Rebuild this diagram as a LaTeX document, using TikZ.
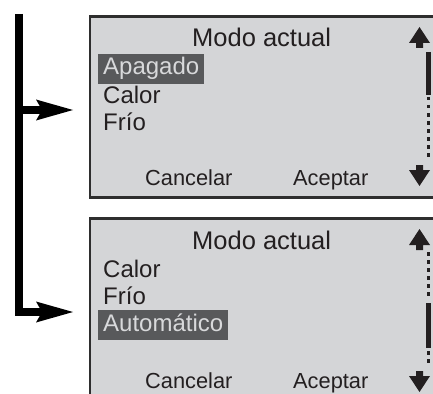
\documentclass[tikz,border=0pt]{standalone}
\usepackage{fontspec}
\setmainfont{Liberation Sans}
\usetikzlibrary{arrows.meta}
\definecolor{scr}{HTML}{D4D5D7}
\definecolor{frame}{HTML}{2E2E2E}
\definecolor{txt}{HTML}{231F20}
\definecolor{selbg}{HTML}{58595B}
\definecolor{seltx}{HTML}{D8D9DB}
\tikzset{
  screen/.style={draw=frame, fill=scr, line width=2.7pt, anchor=north west, minimum width=380pt, inner sep=0pt},
  title/.style={anchor=base west, inner sep=0pt, text=txt, font=\fontsize{25.5}{26}\selectfont},
  item/.style={anchor=base west, inner sep=0pt, text=txt, font=\fontsize{24}{26}\selectfont},
  sel/.style={anchor=base west, fill=selbg, text=seltx, inner xsep=5pt, inner ysep=0pt, text height=21pt, text depth=9pt, font=\fontsize{24}{26}\selectfont},
  softkey/.style={anchor=base west, inner sep=0pt, text=txt, font=\fontsize{21.8}{24}\selectfont},
  flow/.style={draw=black, line width=7.5pt, line join=miter, line cap=butt, shorten >=15.5pt,
    -{Stealth[length=37pt, width=21pt, inset=6pt, line width=0pt]}},
  scrollbar/.style={draw=txt, line width=5.5pt, line cap=butt},
  scrolldots/.style={draw=txt, line width=2.5pt, dash pattern=on 3.5pt off 4.5pt},
  scrollarrow/.style={fill=txt, draw=none}
}
\begin{document}
\begin{tikzpicture}[x=1pt, y=-1pt]
\useasboundingbox (0,0) rectangle (433,393);
\clip (0,0) rectangle (433,393);
% screens
\node[screen, minimum height=181pt] (s1) at (88.5,15) {};
\node[screen, minimum height=200pt] (s2) at (88.5,217) {};
% connectors
\coordinate (top) at (19,14);
\coordinate (j1) at (19,110);
\coordinate (j2) at (19,312);
\draw[flow] (top) -- (j2) -- (j2 -| s2.west);
\draw[flow] (j1) -- (j1 -| s1.west);
% screen 1 texts
\node[title] (t1) at (192,47) {Modo actual};
\node[sel] (a1) at (98,75) {Apagado};
\node[item] (c1) at (103,103) {Calor};
\node[item] (f1) at (103,130) {Frío};
\node[softkey] (k1) at (145,185) {Cancelar};
\node[softkey] (o1) at (293,185) {Aceptar};
% screen 2 texts
\node[title] (t2) at (192,249) {Modo actual};
\node[item] (c2) at (103,277) {Calor};
\node[item] (f2) at (103,304) {Frío};
\node[sel] (m2) at (98,331) {Automático};
\node[softkey] (k2) at (145,388) {Cancelar};
\node[softkey] (o2) at (293,388) {Aceptar};
% scroll indicators screen 1
\fill[scrollarrow] (419.5,27) -- (430,43) -- (423,43) -- (423,48) -- (416,48) -- (416,43) -- (409,43) -- cycle;
\draw[scrollbar] (428.5,52) -- (428.5,95);
\draw[scrolldots] (428.5,97) -- (428.5,158);
\fill[scrollarrow] (416,165) -- (423,165) -- (423,170) -- (430,170) -- (419.5,186) -- (409,170) -- (416,170) -- cycle;
% scroll indicators screen 2
\fill[scrollarrow] (419.5,229) -- (430,245) -- (423,245) -- (423,250) -- (416,250) -- (416,245) -- (409,245) -- cycle;
\draw[scrolldots] (428.5,252) -- (428.5,300);
\draw[scrollbar] (428.5,303) -- (428.5,348);
\draw[scrolldots] (428.5,351) -- (428.5,366);
\fill[scrollarrow] (416,371) -- (423,371) -- (423,376) -- (430,376) -- (419.5,392) -- (409,376) -- (416,376) -- cycle;
\end{tikzpicture}
\end{document}
